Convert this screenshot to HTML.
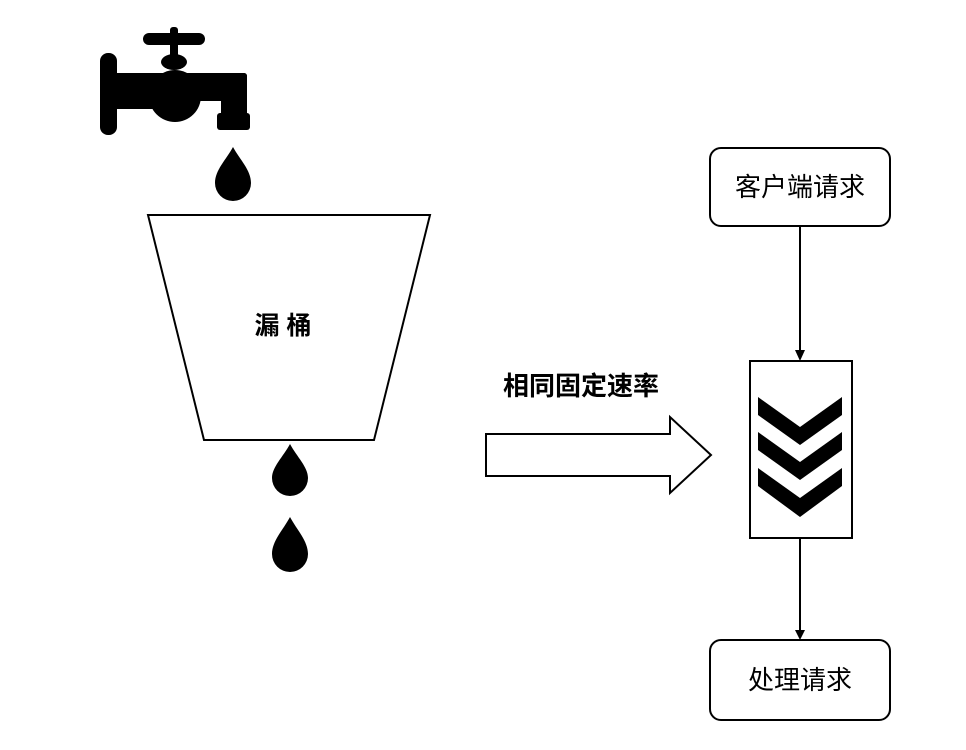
<!DOCTYPE html>
<html><head><meta charset="utf-8"><style>body{margin:0;background:#fff}</style></head><body>
<svg width="966" height="745" viewBox="0 0 966 745" xmlns="http://www.w3.org/2000/svg" font-family="Liberation Sans, Noto Sans CJK SC, sans-serif">
<rect width="966" height="745" fill="#fff"/>
<g fill="#000">
<rect x="100" y="53" width="17" height="82" rx="8"/>
<rect x="112" y="73" width="60" height="36"/>
<rect x="170" y="73" width="77" height="28" rx="3"/>
<circle cx="175" cy="96" r="26"/>
<rect x="143" y="33" width="62" height="12" rx="6"/>
<rect x="170" y="27" width="8" height="35" rx="3"/>
<ellipse cx="174" cy="62" rx="13" ry="8"/>
<rect x="221" y="73" width="26" height="45" rx="3"/>
<rect x="217" y="113" width="33" height="17" rx="3"/>
<path d="M233 147 C240 160 251 170 251 183 A18 18 0 0 1 215 183 C215 170 226 160 233 147Z"/>
<path d="M290 444 C297 457 308 467 308 478 A18 18 0 0 1 272 478 C272 467 283 457 290 444Z"/>
<path d="M290 517 C297 530 308 541 308 554 A18 18 0 0 1 272 554 C272 541 283 530 290 517Z"/>
</g>
<polygon points="148,215 430,215 374,440 204,440" fill="#fff" stroke="#000" stroke-width="2"/>
<text x="283" y="334" font-size="25" font-weight="bold" text-anchor="middle">漏 桶</text>
<text x="581" y="395" font-size="26" font-weight="bold" text-anchor="middle">相同固定速率</text>
<polygon points="486,434 670,434 670,417 711,455 670,493 670,476 486,476" fill="#fff" stroke="#000" stroke-width="2"/>
<rect x="710" y="148" width="180" height="78" rx="11" fill="#fff" stroke="#000" stroke-width="2"/>
<text x="800" y="196" font-size="26" text-anchor="middle">客户端请求</text>
<rect x="710" y="640" width="180" height="80" rx="11" fill="#fff" stroke="#000" stroke-width="2"/>
<text x="800" y="689" font-size="26" text-anchor="middle">处理请求</text>
<line x1="800" y1="226" x2="800" y2="350" stroke="#000" stroke-width="2"/>
<polygon points="795,350 805,350 800,361" fill="#000"/>
<line x1="800" y1="538" x2="800" y2="630" stroke="#000" stroke-width="2"/>
<polygon points="795,630 805,630 800,640" fill="#000"/>
<rect x="750" y="361" width="102" height="177" fill="#fff" stroke="#000" stroke-width="2"/>
<g fill="#000">
<polygon points="758,397 800,427 842,397 842,415 800,445 758,415"/>
<polygon points="758,432 800,462 842,432 842,450 800,480 758,450"/>
<polygon points="758,468 800,498 842,468 842,486 800,517 758,486"/>
</g>
</svg>
</body></html>
